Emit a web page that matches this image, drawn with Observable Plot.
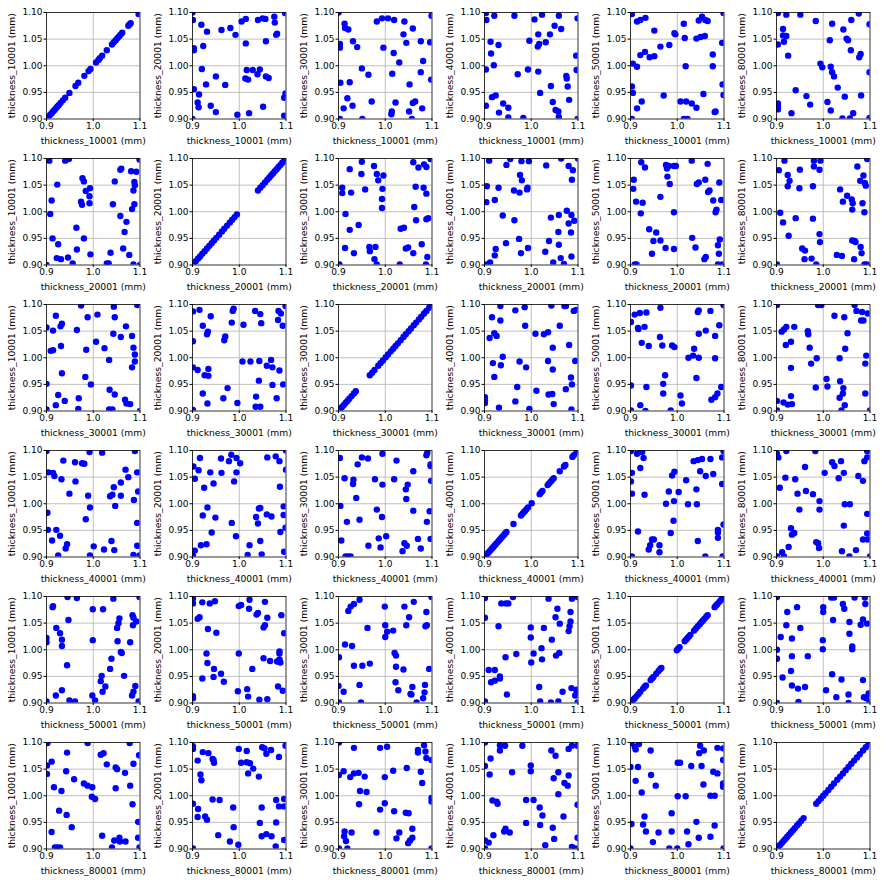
<!DOCTYPE html>
<html>
<head>
<meta charset="utf-8">
<script src="https://cdn.jsdelivr.net/npm/d3@7"></script>
<script src="https://cdn.jsdelivr.net/npm/@observablehq/plot@0.6"></script>
<style>
  html, body { margin: 0; padding: 0; background: #fff; }
  #grid { position: relative; width: 886px; height: 885px; }
  #grid > svg { position: absolute; overflow: visible; }
</style>
</head>
<body>
<div id="grid"></div>
<script>
// Variable names (columns of the scatter matrix)
const variables = ["thickness_10001", "thickness_20001", "thickness_30001", "thickness_40001", "thickness_50001", "thickness_80001"];
const unit = "(mm)";
const xTicks = [0.9, 1.0, 1.1];
const yTicks = [0.90, 0.95, 1.00, 1.05, 1.10];
const xGrid = [1.0];
const yGrid = [0.95, 1.00, 1.05];

// Diagonal panels: a variable against itself
const diag10001 = [0.904,0.908,0.911,0.914,0.917,0.920,0.923,0.926,0.930,0.935,0.940,0.949,0.962,0.968,0.981,0.990,0.994,1.006,1.011,1.014,1.019,1.029,1.040,1.044,1.048,1.052,1.056,1.059,1.062,1.075,1.078,1.080,1.097];
const diag20001 = [0.902,0.907,0.912,0.916,0.921,0.926,0.931,0.936,0.941,0.946,0.951,0.957,0.963,0.968,0.974,0.980,0.985,0.990,0.995,1.040,1.045,1.050,1.055,1.060,1.064,1.068,1.072,1.076,1.080,1.084,1.088,1.092,1.096,1.099];
const diag30001 = [0.903,0.907,0.911,0.915,0.919,0.923,0.928,0.933,0.937,0.967,0.972,0.977,0.985,0.990,0.995,1.001,1.006,1.012,1.017,1.022,1.027,1.033,1.039,1.044,1.050,1.055,1.061,1.066,1.072,1.077,1.083,1.088,1.094,1.099];
const diag40001 = [0.901,0.904,0.907,0.910,0.913,0.916,0.919,0.922,0.925,0.928,0.931,0.934,0.937,0.941,0.944,0.947,0.962,0.978,0.981,0.984,0.987,0.990,0.993,1.001,1.018,1.021,1.024,1.035,1.038,1.042,1.045,1.048,1.061,1.070,1.073,1.088,1.091,1.097];
const diag50001 = [0.901,0.906,0.909,0.913,0.917,0.921,0.927,0.930,0.933,0.943,0.946,0.949,0.955,0.960,0.964,0.966,0.999,1.002,1.005,1.016,1.019,1.022,1.025,1.028,1.036,1.040,1.044,1.048,1.052,1.055,1.058,1.062,1.065,1.080,1.083,1.086,1.090,1.093,1.096,1.099];
const diag80001 = [0.903,0.907,0.911,0.915,0.919,0.923,0.927,0.931,0.935,0.939,0.944,0.948,0.953,0.958,0.985,0.990,0.995,1.000,1.005,1.011,1.017,1.023,1.030,1.036,1.042,1.048,1.054,1.060,1.066,1.072,1.078,1.085,1.091,1.097];

// Pairwise samples [x, y] as drawn in the upper panels (row r, col c): x = variable r, y = variable c
const p10001_20001 = [[0.900,1.100],[1.098,1.099],[0.901,1.086],[0.919,1.077],[0.931,1.064],[0.962,1.067],[0.981,1.071],[0.992,1.058],[1.005,1.083],[1.014,1.088],[1.040,1.086],[1.050,1.089],[1.056,1.088],[1.075,1.092],[1.076,1.081],[1.079,1.058],[1.081,1.060],[0.903,1.033],[0.903,1.029],[0.923,1.037],[1.014,1.042],[1.057,1.046],[0.920,0.994],[0.950,0.980],[0.929,0.965],[0.970,0.964],[1.016,0.992],[1.029,0.992],[1.044,0.993],[1.039,0.984],[1.057,0.980],[1.063,0.977],[1.013,0.976],[1.019,0.974],[0.903,0.956],[0.914,0.946],[0.911,0.931],[0.913,0.922],[0.939,0.925],[0.950,0.913],[0.996,0.908],[1.021,0.911],[1.051,0.923],[1.096,0.906],[1.099,0.948],[1.096,0.940],[0.900,0.900]];
const p10001_30001 = [[0.900,1.100],[1.099,1.094],[0.913,1.079],[0.914,1.071],[0.921,1.068],[0.982,1.083],[0.993,1.089],[1.006,1.089],[1.019,1.086],[1.041,1.083],[1.059,1.070],[1.039,1.059],[0.931,1.046],[0.903,1.041],[0.903,1.034],[0.940,1.035],[0.996,1.034],[1.018,1.024],[1.045,1.043],[1.076,1.046],[1.096,1.044],[1.081,1.009],[1.030,1.006],[0.950,0.995],[0.964,0.983],[1.015,0.985],[1.076,0.988],[1.098,0.974],[0.904,0.968],[0.924,0.969],[1.052,0.965],[0.919,0.939],[0.911,0.920],[0.930,0.925],[0.971,0.933],[1.022,0.931],[1.059,0.930],[1.064,0.933],[1.079,0.920],[1.014,0.914],[1.013,0.909],[1.051,0.914],[1.057,0.900],[0.951,0.900],[0.903,0.900]];
const p10001_40001 = [[0.903,1.099],[0.904,1.086],[0.921,1.094],[0.964,1.094],[1.023,1.096],[1.007,1.087],[1.059,1.094],[1.099,1.089],[1.050,1.075],[1.064,1.069],[1.015,1.059],[1.040,1.059],[1.031,1.044],[1.017,1.041],[1.014,1.036],[0.996,1.047],[0.913,1.045],[0.930,1.039],[0.914,1.023],[0.920,1.001],[0.903,0.993],[0.993,0.993],[0.971,0.984],[1.015,0.989],[1.096,1.019],[1.097,0.992],[1.075,0.981],[1.076,0.976],[1.078,0.961],[1.042,0.962],[1.019,0.949],[0.916,0.941],[0.924,0.944],[0.903,0.925],[0.940,0.929],[0.951,0.921],[0.931,0.912],[0.951,0.903],[0.983,0.902],[1.046,0.932],[1.052,0.917],[1.058,0.914],[1.059,0.904],[1.081,0.936],[1.099,0.900]];
const p10001_50001 = [[0.903,1.097],[0.914,1.083],[0.921,1.086],[0.932,1.090],[0.951,1.066],[1.014,1.079],[1.046,1.085],[1.053,1.092],[1.060,1.086],[1.065,1.084],[1.099,1.099],[0.994,1.061],[0.996,1.059],[1.016,1.052],[1.041,1.051],[1.050,1.054],[1.059,1.056],[1.096,1.043],[0.964,1.036],[0.983,1.039],[0.921,1.020],[0.931,1.026],[0.941,1.016],[0.951,1.018],[0.905,1.004],[0.914,0.998],[1.018,0.999],[1.076,1.021],[1.076,0.999],[0.903,0.961],[0.905,0.949],[0.971,0.944],[1.056,0.947],[1.097,0.965],[1.099,0.945],[0.924,0.933],[0.914,0.920],[1.007,0.933],[1.019,0.933],[1.031,0.929],[1.041,0.921],[1.080,0.913],[1.082,0.914],[1.014,0.900],[1.022,0.900],[0.903,0.900]];
const p10001_80001 = [[0.903,1.099],[0.921,1.096],[0.951,1.096],[0.984,1.084],[1.019,1.079],[1.060,1.086],[1.076,1.098],[1.099,1.078],[0.914,1.069],[0.914,1.057],[0.921,1.056],[0.916,1.045],[0.903,1.040],[1.043,1.068],[1.050,1.051],[1.053,1.048],[1.014,1.048],[1.059,1.029],[1.080,1.022],[1.077,1.016],[0.925,1.019],[0.994,1.004],[0.998,0.997],[1.016,0.998],[1.019,0.988],[1.023,0.980],[1.099,0.988],[1.031,0.959],[0.941,0.954],[0.964,0.943],[0.972,0.927],[1.046,0.942],[1.081,0.944],[1.009,0.932],[1.016,0.916],[0.903,0.929],[0.903,0.923],[0.903,0.918],[0.932,0.911],[1.064,0.911],[1.041,0.901],[1.057,0.901],[1.099,0.902]];
const p20001_30001 = [[0.924,1.080],[0.950,1.094],[0.949,1.071],[0.976,1.086],[0.982,1.071],[0.985,1.059],[0.996,1.068],[0.994,1.043],[0.993,1.024],[0.993,1.007],[0.957,1.042],[0.908,1.045],[0.908,1.035],[0.927,1.036],[0.915,0.996],[0.924,0.966],[0.943,0.975],[0.914,0.932],[0.933,0.922],[0.966,0.934],[0.967,0.926],[0.979,0.934],[0.977,0.911],[0.982,0.901],[0.902,0.901],[1.031,0.901],[1.033,0.968],[1.040,0.970],[1.060,1.093],[1.071,1.083],[1.083,1.089],[1.088,1.084],[1.065,1.047],[1.082,1.045],[1.088,1.034],[1.062,1.009],[1.066,0.984],[1.088,0.986],[1.092,0.988],[1.044,0.931],[1.049,0.933],[1.060,0.922],[1.078,0.939],[1.090,0.915],[1.087,0.901],[1.097,1.099]];
const p20001_40001 = [[0.905,1.048],[0.910,1.096],[0.904,1.018],[0.902,0.901],[0.912,0.905],[0.922,0.918],[0.924,0.930],[0.922,1.022],[0.930,1.045],[0.939,0.993],[0.946,0.941],[0.947,1.088],[0.955,1.099],[0.963,1.040],[0.964,0.984],[0.975,1.036],[0.974,0.949],[0.976,1.069],[0.980,1.059],[0.978,0.922],[0.979,1.095],[0.992,1.045],[0.991,1.042],[0.993,0.932],[0.995,1.095],[1.030,0.925],[1.032,1.087],[1.038,0.945],[1.042,0.989],[1.058,0.962],[1.059,0.994],[1.059,0.938],[1.064,1.100],[1.063,0.913],[1.047,0.905],[1.070,0.902],[1.076,1.002],[1.080,1.086],[1.080,0.978],[1.085,0.961],[1.086,0.994],[1.089,1.078],[1.092,0.983],[1.086,0.916],[1.087,1.060],[1.100,1.100]];
const p20001_50001 = [[0.906,1.043],[0.907,1.060],[0.912,1.019],[0.923,1.093],[0.926,1.017],[0.922,0.997],[0.931,1.083],[0.909,0.901],[0.913,0.901],[0.940,0.967],[0.955,0.961],[0.949,0.945],[0.946,0.921],[0.964,1.028],[0.964,0.946],[0.975,0.932],[0.976,1.088],[0.978,1.081],[0.979,1.066],[0.982,1.086],[0.984,1.052],[0.993,1.086],[0.997,1.086],[0.993,0.930],[0.993,0.999],[1.031,1.096],[1.032,0.951],[1.039,0.933],[1.042,1.052],[1.046,1.055],[1.060,1.060],[1.065,1.090],[1.066,1.037],[1.069,1.040],[1.058,0.911],[1.061,0.915],[1.077,1.021],[1.082,0.999],[1.084,1.004],[1.090,1.055],[1.094,1.022],[1.087,0.937],[1.089,0.921],[1.091,0.948],[1.087,0.901],[1.096,0.901]];
const p20001_80001 = [[0.905,1.078],[0.908,0.998],[0.914,0.980],[0.917,1.096],[0.924,1.069],[0.924,1.048],[0.928,1.058],[0.926,0.955],[0.941,0.988],[0.949,1.044],[0.950,1.079],[0.955,0.931],[0.961,0.927],[0.960,0.911],[0.975,0.912],[0.978,0.987],[0.978,1.048],[0.980,1.085],[0.980,1.096],[0.985,0.901],[0.992,1.079],[0.994,1.096],[0.992,0.958],[0.993,0.943],[0.901,0.901],[1.029,0.919],[1.036,1.042],[1.040,0.917],[1.042,1.019],[1.051,1.030],[1.061,1.023],[1.062,1.004],[1.063,1.016],[1.062,0.946],[1.067,0.945],[1.069,0.943],[1.066,0.911],[1.073,1.085],[1.079,1.058],[1.080,0.934],[1.082,0.922],[1.084,1.016],[1.086,1.068],[1.088,0.999],[1.089,1.054],[1.091,1.049],[1.094,1.099],[1.093,0.901],[1.088,0.901]];
const p30001_40001 = [[0.901,0.926],[0.901,0.920],[0.901,0.915],[0.911,1.037],[0.916,1.076],[0.921,1.046],[0.926,1.041],[0.918,0.990],[0.921,0.964],[0.935,0.986],[0.934,1.070],[0.934,1.097],[0.939,1.002],[0.931,0.906],[0.966,1.089],[0.966,0.918],[0.970,0.945],[0.975,0.993],[0.986,1.095],[0.987,1.060],[0.989,0.982],[0.996,0.904],[1.009,1.045],[1.011,0.938],[1.027,1.044],[1.036,1.048],[1.036,0.994],[1.037,0.931],[1.045,0.932],[1.046,1.019],[1.046,0.978],[1.048,0.913],[1.043,1.098],[1.061,1.060],[1.071,1.097],[1.074,1.097],[1.074,0.941],[1.081,1.024],[1.085,0.963],[1.087,0.950],[1.086,0.903],[1.094,0.994],[1.091,1.088],[1.096,1.090]];
const p30001_50001 = [[0.901,1.067],[0.901,0.948],[0.901,0.901],[0.909,1.081],[0.916,1.056],[0.917,1.054],[0.920,1.084],[0.924,1.028],[0.921,0.911],[0.930,1.058],[0.934,1.085],[0.934,0.945],[0.939,1.022],[0.932,0.900],[0.964,1.094],[0.963,1.039],[0.968,1.023],[0.974,0.967],[0.970,0.951],[0.970,0.933],[0.986,0.901],[0.989,1.023],[0.994,1.020],[1.007,0.929],[1.010,0.914],[1.024,1.000],[1.034,1.004],[1.036,1.017],[1.041,0.962],[1.044,1.086],[1.046,1.089],[1.046,1.045],[1.046,1.000],[1.061,1.051],[1.071,1.088],[1.081,1.041],[1.081,0.999],[1.090,1.061],[1.086,0.933],[1.094,0.945],[1.081,0.926],[1.073,0.921],[1.099,1.099]];
const p30001_80001 = [[0.901,1.099],[0.901,0.919],[0.901,0.901],[0.911,1.049],[0.916,1.053],[0.921,1.058],[0.915,0.916],[0.924,0.912],[0.933,0.913],[0.931,0.928],[0.920,1.024],[0.931,1.030],[0.931,0.981],[0.938,1.058],[0.967,1.050],[0.968,1.044],[0.971,1.019],[0.974,0.989],[0.984,0.944],[0.986,0.999],[0.989,1.099],[0.996,1.099],[1.007,0.960],[1.009,0.946],[1.024,1.079],[1.035,0.999],[1.036,0.956],[1.035,0.925],[1.042,0.933],[1.043,0.943],[1.046,0.911],[1.047,1.017],[1.045,1.076],[1.039,0.901],[1.052,1.046],[1.067,1.099],[1.071,1.088],[1.081,1.070],[1.086,1.070],[1.083,1.086],[1.090,0.989],[1.090,0.933],[1.092,1.004],[1.095,1.083],[1.100,0.901]];
const p40001_50001 = [[0.901,1.099],[0.903,1.058],[0.901,1.042],[0.903,1.019],[0.903,0.901],[0.914,1.094],[0.921,1.097],[0.925,1.097],[0.921,1.067],[0.928,1.086],[0.930,1.017],[0.916,0.948],[0.939,0.914],[0.942,0.922],[0.946,0.933],[0.950,0.933],[0.962,0.922],[0.962,0.909],[0.976,1.000],[0.982,1.023],[0.986,0.945],[0.989,1.053],[0.994,1.060],[0.993,1.005],[0.992,0.968],[1.003,1.022],[1.019,1.044],[1.023,0.999],[1.041,1.027],[1.042,0.999],[1.044,0.930],[1.035,1.080],[1.049,1.061],[1.044,1.082],[1.053,1.084],[1.061,1.052],[1.060,0.901],[1.071,1.084],[1.077,1.056],[1.096,1.087],[1.096,1.037],[1.087,0.951],[1.087,0.946],[1.087,0.936],[1.099,0.961],[1.099,1.099],[1.097,0.901]];
const p40001_80001 = [[0.901,1.094],[0.904,1.087],[0.907,1.030],[0.901,0.901],[0.912,0.909],[0.916,0.901],[0.921,1.099],[0.919,1.049],[0.926,0.919],[0.931,0.954],[0.933,0.942],[0.938,0.945],[0.940,1.046],[0.945,1.019],[0.949,0.989],[0.961,1.069],[0.963,1.024],[0.978,1.018],[0.983,1.099],[0.985,0.928],[0.989,0.926],[0.991,0.917],[0.992,1.005],[0.992,0.989],[1.003,1.058],[1.019,1.078],[1.024,1.071],[1.033,1.048],[1.038,1.080],[1.044,1.058],[1.040,0.911],[1.044,0.959],[1.046,0.999],[1.057,0.999],[1.056,0.901],[1.070,0.913],[1.075,1.052],[1.085,1.043],[1.088,1.080],[1.094,1.087],[1.094,1.099],[1.094,0.981],[1.094,0.944],[1.085,0.933],[1.095,0.933],[1.100,0.901]];
const p50001_80001 = [[0.901,1.000],[0.901,0.983],[0.901,0.900],[0.901,1.099],[0.909,1.024],[0.913,0.948],[0.921,1.046],[0.923,1.071],[0.933,1.021],[0.931,0.960],[0.933,0.933],[0.933,0.988],[0.944,1.080],[0.946,0.927],[0.947,0.902],[0.951,1.041],[0.961,0.930],[0.967,0.988],[0.999,1.018],[0.999,1.001],[1.000,1.071],[1.000,1.080],[1.006,0.924],[1.017,1.098],[1.023,1.098],[1.021,1.056],[1.019,0.954],[1.028,0.911],[1.039,0.944],[1.042,1.086],[1.045,1.077],[1.054,0.916],[1.054,0.900],[1.056,1.052],[1.056,1.030],[1.062,1.006],[1.062,1.001],[1.067,1.098],[1.080,1.047],[1.085,1.057],[1.085,0.943],[1.089,1.098],[1.090,1.086],[1.087,0.911],[1.092,0.909],[1.094,1.049],[1.097,0.918],[1.099,0.902]];

// Build lookups from the named arrays
const diagonals = [diag10001, diag20001, diag30001, diag40001, diag50001, diag80001];
const upper = {
  "0,1": p10001_20001, "0,2": p10001_30001, "0,3": p10001_40001, "0,4": p10001_50001, "0,5": p10001_80001,
  "1,2": p20001_30001, "1,3": p20001_40001, "1,4": p20001_50001, "1,5": p20001_80001,
  "2,3": p30001_40001, "2,4": p30001_50001, "2,5": p30001_80001,
  "3,4": p40001_50001, "3,5": p40001_80001,
  "4,5": p50001_80001
};

function panelData(r, c) {
  if (r === c) return diagonals[r].map(v => [v, v]);
  if (r < c) return upper[r + "," + c];
  return upper[c + "," + r].map(([a, b]) => [b, a]);
}

const ML = 46, MT = 12, FW = 93.5, FH = 106.5, MR = 6.5, MB = 27.5;
const STEP = 146;
const grid = document.getElementById("grid");

for (let r = 0; r < 6; r++) {
  for (let c = 0; c < 6; c++) {
    const data = panelData(r, c);
    const xlab = variables[r] + " " + unit;
    const ylab = variables[c] + " " + unit;
    const chart = Plot.plot({
      width: ML + FW + MR,
      height: MT + FH + MB,
      marginLeft: ML, marginTop: MT, marginRight: MR, marginBottom: MB,
      style: {fontFamily: "DejaVu Sans", fontSize: "9px", color: "#000", background: "transparent", overflow: "visible"},
      x: {domain: [0.9, 1.1], label: null},
      y: {domain: [0.9, 1.1], label: null},
      marks: [
        Plot.gridX(xGrid, {stroke: "#b0b0b0", strokeOpacity: 1, strokeWidth: 0.8}),
        Plot.gridY(yGrid, {stroke: "#b0b0b0", strokeOpacity: 1, strokeWidth: 0.8}),
        Plot.dot(data, {x: d => d[0], y: d => d[1], r: 3.2, fill: "#0000ff", stroke: "none", clip: true}),
        Plot.frame({stroke: "#000", strokeWidth: 0.8}),
        Plot.axisX({ticks: xTicks, tickFormat: d3.format(".1f"), tickSize: 2.5, tickPadding: 1.5, label: null}),
        Plot.axisY({ticks: yTicks, tickFormat: d3.format(".2f"), tickSize: 2.5, tickPadding: 1.5, label: null}),
        Plot.text([xlab], {text: d => d, frameAnchor: "bottom", textAnchor: "middle", lineAnchor: "middle", dy: 22, fontSize: 9.2, fill: "#000"}),
        Plot.text([ylab], {text: d => d, frameAnchor: "left", textAnchor: "middle", lineAnchor: "middle", dx: -34, rotate: -90, fontSize: 9.2, fill: "#000"})
      ]
    });
    chart.style.left = (c * STEP) + "px";
    chart.style.top = (r * STEP) + "px";
    grid.appendChild(chart);
  }
}
</script>
</body>
</html>
